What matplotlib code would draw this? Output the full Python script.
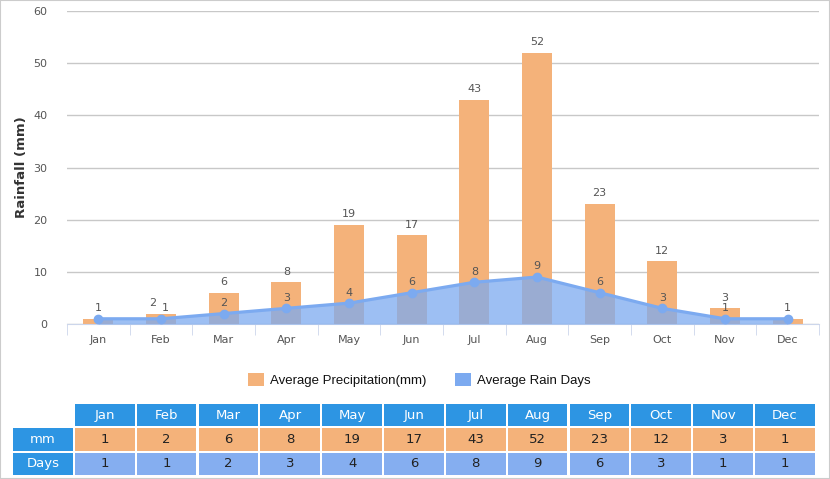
import matplotlib

matplotlib.use("Agg")
import matplotlib.pyplot as plt
from matplotlib.patches import Rectangle, Patch
import numpy as np

months = ["Jan", "Feb", "Mar", "Apr", "May", "Jun", "Jul", "Aug", "Sep", "Oct", "Nov", "Dec"]
precip_mm = [1, 2, 6, 8, 19, 17, 43, 52, 23, 12, 3, 1]
rain_days = [1, 1, 2, 3, 4, 6, 8, 9, 6, 3, 1, 1]
y_ticks = [0, 10, 20, 30, 40, 50, 60]

BAR_COLOR = "#f4b27a"
LINE_COLOR = "#7caaf0"
HEAD_COLOR = "#2d95e3"
DAYS_COLOR = "#85aef0"

W, H = 830, 479
fig = plt.figure(figsize=(W / 100, H / 100), dpi=100)
fig.patch.set_facecolor("white")
fig.patches.append(Rectangle((0, 0), 1, 1, transform=fig.transFigure, fill=False,
                             edgecolor="#cccccc", linewidth=1.5))

# main chart
ax = fig.add_axes([67 / W, 155 / H, (819 - 67) / W, (324 - 11) / H])
x = np.arange(len(months))
ax.bar(x, precip_mm, width=0.48, color=BAR_COLOR, zorder=2)
ax.fill_between(x, rain_days, 0, color=LINE_COLOR, alpha=0.75, linewidth=0, zorder=3)
ax.plot(x, rain_days, color=LINE_COLOR, linewidth=2.3, marker="o", markersize=6, zorder=4)

for xi, v, d in zip(x, precip_mm, rain_days):
    if v == d:
        continue  # same label as the line point, drawn once
    dx = -6 if abs(v - d) < 1.5 and v > d and v < 2.5 else 0
    ax.annotate(str(v), (xi, v), xytext=(dx, 4), textcoords="offset points",
                ha="center", va="bottom", fontsize=8, color="#555555", zorder=5)
for xi, v, p in zip(x, rain_days, precip_mm):
    dx = 3 if abs(p - v) < 1.5 and p != v else 0
    ax.annotate(str(v), (xi, v), xytext=(dx, 4), textcoords="offset points",
                ha="center", va="bottom", fontsize=8, color="#555555", zorder=5)

ax.set_xlim(-0.5, 11.5)
ax.set_ylim(0, 60)
ax.set_yticks(y_ticks)
ax.grid(axis="y", color="#c8c8c8", linewidth=1)
ax.set_axisbelow(True)
for s in ["top", "right", "left"]:
    ax.spines[s].set_visible(False)
ax.spines["bottom"].set_color("#ccd6eb")
ax.set_xticks(x)
ax.set_xticklabels(months)
ax.set_xticks(np.arange(-0.5, 12, 1), minor=True)
ax.tick_params(axis="x", which="major", length=0, pad=8, labelsize=8, labelcolor="#555555")
ax.tick_params(axis="x", which="minor", length=8, color="#ccd6eb")
ax.tick_params(axis="y", length=0, pad=14, labelsize=8, labelcolor="#555555")
ax.set_ylabel("Rainfall (mm)", fontsize=9.5, fontweight="bold", color="#333333", labelpad=4)

# legend
handles = [Patch(facecolor=BAR_COLOR, label="Average Precipitation(mm)"),
           Patch(facecolor=LINE_COLOR, label="Average Rain Days")]
fig.legend(handles=handles, loc="center", bbox_to_anchor=(0.505, 1 - 380 / H), ncol=2,
           frameon=False, handlelength=1.2, handleheight=1.2, columnspacing=2.2,
           handletextpad=0.45, prop={"family": "Liberation Sans", "size": 9.5},
           labelcolor="#111111")

# data table
tax = fig.add_axes([13 / W, (H - 476) / H, 804 / W, 73 / H])
tax.set_xlim(0, 13)
tax.set_ylim(0, 3)
tax.axis("off")
rows = [("", months, HEAD_COLOR, "white"),
        ("mm", precip_mm, BAR_COLOR, "#222222"),
        ("Days", rain_days, DAYS_COLOR, "#222222")]
gx, gy = 0.035, 0.09
for r, (label, vals, color, tcolor) in enumerate(rows):
    y0 = 2 - r
    if label:
        tax.add_patch(Rectangle((0, y0 + gy / 2), 1 - gx, 1 - gy, facecolor=HEAD_COLOR, linewidth=0))
        tax.text(0.5 - gx / 2, y0 + 0.5, label, ha="center", va="center", fontsize=9.5, color="white")
    for c, v in enumerate(vals, start=1):
        tax.add_patch(Rectangle((c, y0 + gy / 2), 1 - gx, 1 - gy, facecolor=color, linewidth=0))
        tax.text(c + 0.5 - gx / 2, y0 + 0.5, str(v), ha="center", va="center", fontsize=9.5, color=tcolor)

fig.savefig("out.png", dpi=100)
